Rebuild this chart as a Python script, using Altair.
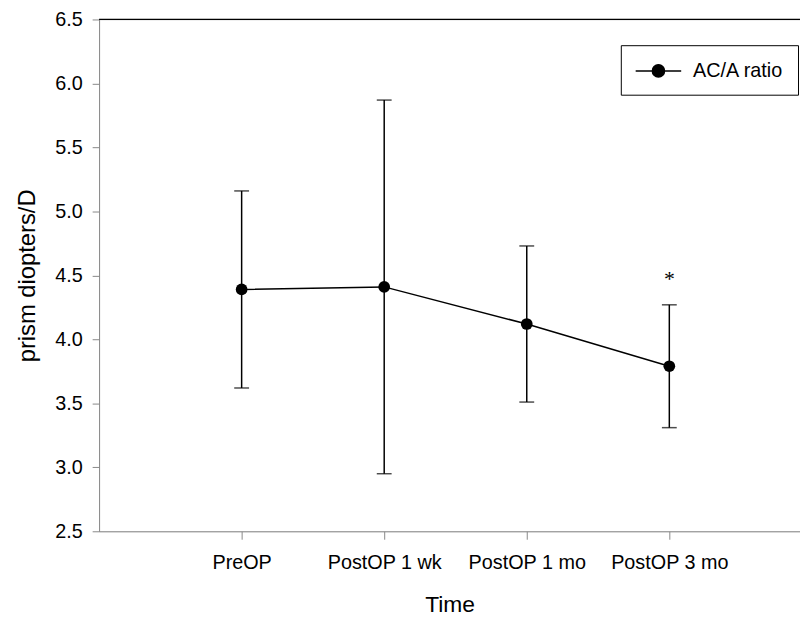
import altair as alt
import pandas as pd
import json

times = ["PreOP", "PostOP 1 wk", "PostOP 1 mo", "PostOP 3 mo"]
means = [4.39, 4.41, 4.12, 3.79]
upper = [5.16, 5.87, 4.73, 4.27]
lower = [3.62, 2.95, 3.51, 3.31]
series_name = "AC/A ratio"
sig_marks = ["", "", "", "*"]
sig_level = [None, None, None, 4.47]
y_ticks = [2.5, 3.0, 3.5, 4.0, 4.5, 5.0, 5.5, 6.0, 6.5]

df = pd.DataFrame({
    "pos": list(range(1, len(times) + 1)),
    "time": times,
    "mean": means,
    "upper": upper,
    "lower": lower,
    "series": [series_name] * len(times),
    "sig": sig_marks,
    "sig_y": sig_level,
})

FONT = "Liberation Sans"
label_expr = json.dumps(times) + "[datum.value - 1]"

x_scale = alt.Scale(domain=[0, 708 / 144], nice=False, zero=False)
y_scale = alt.Scale(domain=[2.5, 6.5], nice=False, zero=False)

x_axis = alt.Axis(values=[1, 2, 3, 4], labelExpr=label_expr, title="Time",
                  grid=False, tickSize=8, labelPadding=14, titlePadding=21,
                  labelFontSize=20, titleFontSize=23, titleFontWeight="normal")
y_axis = alt.Axis(values=y_ticks, format=".1f", title="prism diopters/D",
                  grid=False, tickSize=7, labelPadding=10, titlePadding=15,
                  labelFontSize=20, titleFontSize=24, titleFontWeight="normal")

base = alt.Chart(df)

x_enc = alt.X("pos:Q", scale=x_scale, axis=x_axis)

err_rule = base.mark_rule(color="black", strokeWidth=1.5).encode(
    x=x_enc,
    y=alt.Y("lower:Q", scale=y_scale, axis=y_axis),
    y2="upper:Q",
)
cap_hi = base.mark_tick(color="black", orient="horizontal", size=15, thickness=1.5).encode(
    x=alt.X("pos:Q", scale=x_scale), y=alt.Y("upper:Q", scale=y_scale))
cap_lo = base.mark_tick(color="black", orient="horizontal", size=15, thickness=1.5).encode(
    x=alt.X("pos:Q", scale=x_scale), y=alt.Y("lower:Q", scale=y_scale))
line = base.mark_line(color="black", strokeWidth=1.5).encode(
    x=alt.X("pos:Q", scale=x_scale), y=alt.Y("mean:Q", scale=y_scale))

legend_path = ("M-2.09,0H2.09M0.56,0A0.56,0.56,0,1,1,-0.56,0A0.56,0.56,0,1,1,0.56,0Z")
points = base.mark_point(filled=True, size=140, opacity=1).encode(
    x=alt.X("pos:Q", scale=x_scale),
    y=alt.Y("mean:Q", scale=y_scale),
    color=alt.Color("series:N", scale=alt.Scale(range=["black"]),
                    legend=alt.Legend(
                        title=None, orient="none", legendX=527, legendY=26,
                        symbolType=legend_path, symbolSize=484,
                        symbolFillColor="black", symbolStrokeColor="black",
                        symbolStrokeWidth=1.5, symbolOffset=12, labelOffset=23,
                        labelFontSize=20, labelFont=FONT, labelColor="black",
                        padding=14, strokeColor="black", fillColor="white",
                    )),
)

sig = base.mark_text(font="Liberation Serif", fontSize=22, color="black",
                     baseline="middle").encode(
    x=alt.X("pos:Q", scale=x_scale),
    y=alt.Y("sig_y:Q", scale=y_scale),
    text="sig:N",
)

top_rule = alt.Chart(pd.DataFrame({"top": [6.5]})).mark_rule(
    color="black", strokeWidth=1.2).encode(y=alt.Y("top:Q", scale=y_scale))

chart = alt.layer(err_rule, cap_hi, cap_lo, line, points, sig, top_rule).properties(
    width=708, height=517,
    autosize=alt.AutoSizeParams(type="none"),
    padding={"left": 92, "top": 8.5, "right": 0, "bottom": 85},
).configure_view(stroke=None).configure_axis(
    labelFont=FONT, titleFont=FONT, labelColor="black", titleColor="black",
    domainColor="black", tickColor="black", domainWidth=1.2, tickWidth=1.2,
    titleFontWeight="normal",
).configure(background="white")

chart.save("out.html", embed_options={"renderer": "svg", "actions": False})
